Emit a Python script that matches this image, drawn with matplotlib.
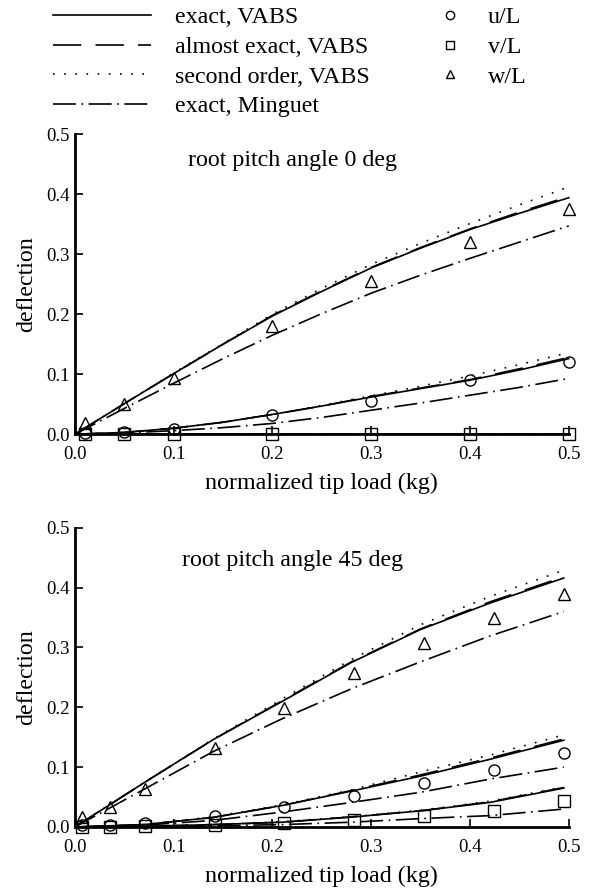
import matplotlib
matplotlib.use("Agg")
import matplotlib.pyplot as plt
from matplotlib.lines import Line2D

plt.rcParams['font.family'] = ['Liberation Serif', 'DejaVu Serif']

# ---------------- data: root pitch angle 0 deg ----------------
x0_curve = [0.0, 0.05, 0.1, 0.15, 0.2, 0.25, 0.3, 0.35, 0.4, 0.45, 0.5]
w0_exact = [0.0, 0.051, 0.101, 0.150, 0.197, 0.238, 0.277, 0.310, 0.341, 0.368, 0.394]
w0_almost = [0.0, 0.051, 0.101, 0.150, 0.198, 0.239, 0.278, 0.311, 0.342, 0.370, 0.396]
w0_second = [0.0, 0.051, 0.102, 0.151, 0.200, 0.243, 0.283, 0.318, 0.351, 0.382, 0.412]
w0_minguet = [0.0, 0.043, 0.085, 0.126, 0.165, 0.201, 0.235, 0.265, 0.293, 0.320, 0.347]
u0_exact = [0.0, 0.003, 0.010, 0.020, 0.033, 0.047, 0.062, 0.076, 0.090, 0.107, 0.126]
u0_almost = [0.0, 0.003, 0.010, 0.020, 0.033, 0.047, 0.063, 0.077, 0.091, 0.109, 0.128]
u0_second = [0.0, 0.003, 0.010, 0.020, 0.033, 0.048, 0.064, 0.080, 0.097, 0.116, 0.136]
u0_minguet = [0.0, 0.002, 0.006, 0.011, 0.018, 0.028, 0.040, 0.052, 0.065, 0.078, 0.093]
v0_exact = [0.0] * 11
v0_almost = [0.0] * 11
v0_second = [0.0] * 11
v0_minguet = [0.0] * 11

x0_pts = [0.01, 0.05, 0.1, 0.2, 0.3, 0.4, 0.5]
u0_pts = [0.002, 0.003, 0.008, 0.032, 0.055, 0.090, 0.120]
v0_pts = [0.0, 0.0, 0.0, 0.0, 0.0, 0.0, 0.0]
w0_pts = [0.019, 0.050, 0.094, 0.180, 0.255, 0.320, 0.376]

# ---------------- data: root pitch angle 45 deg ----------------
x45_curve = [0.0, 0.07, 0.14, 0.21, 0.28, 0.35, 0.42, 0.495]
w45_exact = [0.0, 0.074, 0.146, 0.210, 0.275, 0.330, 0.374, 0.416]
w45_almost = [0.0, 0.074, 0.146, 0.211, 0.276, 0.331, 0.376, 0.418]
w45_second = [0.0, 0.074, 0.147, 0.214, 0.280, 0.338, 0.385, 0.429]
w45_minguet = [0.0, 0.063, 0.126, 0.181, 0.231, 0.276, 0.319, 0.360]
u45_exact = [0.0, 0.004, 0.016, 0.036, 0.060, 0.085, 0.113, 0.145]
u45_almost = [0.0, 0.004, 0.016, 0.036, 0.061, 0.087, 0.115, 0.147]
u45_second = [0.0, 0.004, 0.017, 0.037, 0.062, 0.092, 0.120, 0.154]
u45_minguet = [0.0, 0.003, 0.011, 0.025, 0.041, 0.058, 0.080, 0.100]
v45_exact = [0.0, 0.001, 0.004, 0.008, 0.0165, 0.027, 0.041, 0.065]
v45_almost = [0.0, 0.001, 0.004, 0.008, 0.017, 0.027, 0.042, 0.066]
v45_second = [0.0, 0.001, 0.004, 0.009, 0.017, 0.028, 0.043, 0.067]
v45_minguet = [0.0, 0.001, 0.002, 0.004, 0.008, 0.014, 0.019, 0.030]

x45_pts = [0.0071, 0.0354, 0.0707, 0.1414, 0.2121, 0.2828, 0.3536, 0.4243, 0.4950]
u45_pts = [0.003, 0.004, 0.007, 0.0176, 0.034, 0.052, 0.074, 0.096, 0.124]
v45_pts = [0.0, 0.0, 0.001, 0.003, 0.006, 0.011, 0.019, 0.026, 0.043]
w45_pts = [0.0165, 0.033, 0.063, 0.132, 0.199, 0.258, 0.308, 0.349, 0.390]

xticks = [0.0, 0.1, 0.2, 0.3, 0.4, 0.5]
xtick_labels = ["0.0", "0.1", "0.2", "0.3", "0.4", "0.5"]
yticks = [0.0, 0.1, 0.2, 0.3, 0.4, 0.5]
ytick_labels = ["0.0", "0.1", "0.2", "0.3", "0.4", "0.5"]

titles = ["root pitch angle 0 deg", "root pitch angle 45 deg"]
line_labels = ["exact, VABS", "almost exact, VABS", "second order, VABS", "exact, Minguet"]
marker_labels = ["u/L", "v/L", "w/L"]

# ---------------- styles ----------------
LW = 1.2
styles = [
    dict(linestyle='-'),
    dict(linestyle=(0, (17, 8.5))),
    dict(linestyle=(0, (1.0, 5.7))),
    dict(linestyle=(0, (13.8, 3.3, 1.0, 3.3))),
]
markers = ['o', 's', '^']
TICK_FS = 13.5
LABEL_FS = 17.3

fig = plt.figure(figsize=(5.9, 8.88), dpi=100)
ax_top = fig.add_axes([0.127, 0.511, 0.837, 0.338])
ax_bot = fig.add_axes([0.127, 0.0687, 0.837, 0.337])

panels = [
    (ax_top, x0_curve,
     [[u0_exact, u0_almost, u0_second, u0_minguet],
      [v0_exact, v0_almost, v0_second, v0_minguet],
      [w0_exact, w0_almost, w0_second, w0_minguet]],
     x0_pts, [u0_pts, v0_pts, w0_pts], titles[0], 0.912),
    (ax_bot, x45_curve,
     [[u45_exact, u45_almost, u45_second, u45_minguet],
      [v45_exact, v45_almost, v45_second, v45_minguet],
      [w45_exact, w45_almost, w45_second, w45_minguet]],
     x45_pts, [u45_pts, v45_pts, w45_pts], titles[1], 0.892),
]

for ax, xc, curves, xp, pts, title, ty in panels:
    for comp in curves:
        for ys, st in zip(comp, styles):
            ax.plot(xc, ys, color='black', lw=LW, clip_on=False, **st)
    for ys, mk in zip(pts, markers):
        ax.plot(xp, ys, linestyle='none', marker=mk, markersize=8,
                markerfacecolor='none', markeredgecolor='black',
                markeredgewidth=1.0, clip_on=False, zorder=5)
    ax.set_xlim(0, 0.5)
    ax.set_ylim(0, 0.5)
    ax.set_xticks(xticks)
    ax.set_xticklabels(xtick_labels)
    ax.set_yticks(yticks)
    ax.set_yticklabels(ytick_labels)
    for s in ['top', 'right']:
        ax.spines[s].set_visible(False)
    for s in ['left', 'bottom']:
        ax.spines[s].set_linewidth(2.0)
    ax.tick_params(direction='in', length=6, width=1.2, labelsize=TICK_FS)
    ax.tick_params(axis='x', pad=8.5)
    ax.tick_params(axis='y', pad=4)
    ax.set_xlabel("normalized tip load (kg)", fontsize=LABEL_FS, labelpad=7)
    ax.set_ylabel("deflection", fontsize=LABEL_FS, labelpad=6)
    ax.text(0.44, ty, title, transform=ax.transAxes, ha='center', va='center',
            fontsize=LABEL_FS)

# ---------------- legends ----------------
line_handles = [Line2D([], [], color='black', lw=LW, **st) for st in styles]
leg1 = fig.legend(line_handles, line_labels, loc='upper left',
                  bbox_to_anchor=(0.0898, 0.9928), frameon=False, fontsize=LABEL_FS,
                  handlelength=4.06, handletextpad=1.0, labelspacing=0.33,
                  borderaxespad=0, borderpad=0)
marker_handles = [Line2D([], [], linestyle='none', marker=mk, markersize=6,
                         markerfacecolor='none', markeredgecolor='black',
                         markeredgewidth=1.0) for mk in markers]
leg2 = fig.legend(marker_handles, marker_labels, loc='upper left',
                  bbox_to_anchor=(0.742, 0.9928), frameon=False, fontsize=LABEL_FS,
                  handlelength=1.0, handletextpad=1.08, labelspacing=0.33,
                  borderaxespad=0, borderpad=0)

fig.savefig("out.png", dpi=100)
